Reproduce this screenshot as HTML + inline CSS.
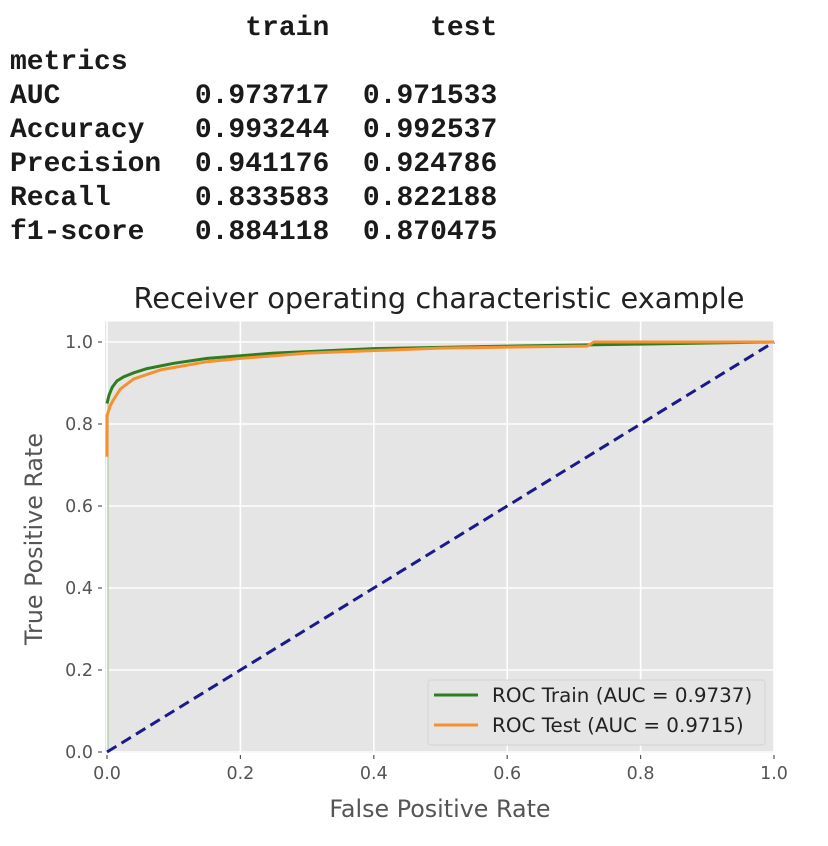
<!DOCTYPE html>
<html><head><meta charset="utf-8"><style>
body{margin:0;background:#fff;width:828px;height:846px;overflow:hidden;position:relative}
#tbl{position:absolute;left:0;top:0;font-family:"Liberation Mono",monospace;font-weight:bold;font-size:28px;color:#1a1a1a}
#tbl div{position:absolute;white-space:pre;line-height:30px}
</style></head><body>
<div id="tbl">
<div style="left:10px;top:14px">              train      test</div>
<div style="left:10px;top:48px">metrics</div>
<div style="left:10px;top:82px">AUC        0.973717  0.971533</div>
<div style="left:10px;top:116px">Accuracy   0.993244  0.992537</div>
<div style="left:10px;top:150px">Precision  0.941176  0.924786</div>
<div style="left:10px;top:184px">Recall     0.833583  0.822188</div>
<div style="left:10px;top:218px">f1-score   0.884118  0.870475</div>
</div>
<svg id="chart" width="828" height="846" style="position:absolute;left:0;top:0" font-family="DejaVu Sans, sans-serif"></svg>
<script>
const xTicks=[0,0.2,0.4,0.6,0.8,1.0];
const yTicks=[0,0.2,0.4,0.6,0.8,1.0];
const tickLabels=["0.0","0.2","0.4","0.6","0.8","1.0"];
const trainFpr=[0,0.003,0.008,0.015,0.025,0.04,0.06,0.1,0.15,0.25,0.4,0.6,0.8,1];
const trainTpr=[0.85,0.87,0.89,0.905,0.915,0.925,0.935,0.948,0.96,0.973,0.984,0.99,0.995,1];
const testFpr=[0,0,0.005,0.01,0.02,0.04,0.08,0.15,0.2,0.3,0.5,0.72,0.73,1];
const testTpr=[0.72,0.82,0.845,0.86,0.885,0.91,0.932,0.952,0.96,0.973,0.985,0.99,1.0,1.0];
const X0=107,X1=774,Y0=752,Y1=342;
const sx=v=>X0+(X1-X0)*v, sy=v=>Y0-(Y0-Y1)*v;
const svg=document.getElementById('chart');const NS='http://www.w3.org/2000/svg';
function mk(t,a,p){const e=document.createElementNS(NS,t);for(const k in a)e.setAttribute(k,a[k]);(p||svg).appendChild(e);return e;}
const bg=mk('rect',{x:105,y:sy(1.05),width:X1-105,height:Y0+1-sy(1.05),fill:'#e5e5e5'});


xTicks.forEach((v,i)=>{
 const g=mk('line',{x1:sx(v),x2:sx(v),y1:sy(1.05),y2:Y0+1,stroke:'#fff','stroke-width':1.6});
 
 
 const tk=mk('line',{x1:sx(v),x2:sx(v),y1:Y0+3,y2:Y0+7,stroke:'#555','stroke-width':1.2});
 
 
 const t=mk('text',{x:sx(v),y:Y0+27,'text-anchor':'middle','font-size':17.5,fill:'#555'});t.textContent=tickLabels[i];
 
 
});
yTicks.forEach((v,i)=>{
 const g=mk('line',{x1:105,x2:X1,y1:sy(v),y2:sy(v),stroke:'#fff','stroke-width':1.6});
 
 
 const tk=mk('line',{x1:98,x2:102,y1:sy(v),y2:sy(v),stroke:'#555','stroke-width':1.2});
 
 
 const t=mk('text',{x:93,y:sy(v)+6,'text-anchor':'end','font-size':17.5,fill:'#555'});t.textContent=tickLabels[i];
 
 
});
const faint=mk('line',{x1:sx(0)+1,y1:sy(0),x2:sx(0)+1,y2:sy(trainTpr[0]),stroke:'#b6d2ae','stroke-width':1.5});


const diag=mk('line',{x1:sx(0),y1:sy(0),x2:sx(1),y2:sy(1),stroke:'#1a1a8c','stroke-width':3,'stroke-dasharray':'11,6'});


function path(xs,ys,c,n){const d=xs.map((x,i)=>(i?'L':'M')+sx(x).toFixed(1)+','+sy(ys[i]).toFixed(1)).join('');
 const p=mk('path',{d:d,fill:'none',stroke:c,'stroke-width':3,'stroke-linejoin':'round'});
 
 }
path(trainFpr,trainTpr,'#2e7d1e','roc-train-line');
path(testFpr,testTpr,'#f5922f','roc-test-line');
const lg=mk('rect',{x:428,y:680,width:337,height:65,rx:3,fill:'#e5e5e5',stroke:'#d4d4d4','stroke-width':1});


[['#2e7d1e','ROC Train (AUC = 0.9737)',695],['#f5922f','ROC Test (AUC = 0.9715)',725]].forEach(e=>{
 const l=mk('line',{x1:434,x2:478,y1:e[2],y2:e[2],stroke:e[0],'stroke-width':3});
 
 
 const t=mk('text',{x:492,y:e[2]+7,'font-size':19.9,fill:'#222'});t.textContent=e[1];
 
 
});
const ti=mk('text',{x:439,y:308,'text-anchor':'middle','font-size':28.8,fill:'#222'});ti.textContent='Receiver operating characteristic example';


const xl=mk('text',{x:440,y:817,'text-anchor':'middle','font-size':23.8,fill:'#555'});xl.textContent='False Positive Rate';


const yl=mk('text',{x:0,y:0,'text-anchor':'middle','font-size':23.8,fill:'#555',transform:'translate(42,539) rotate(-90)'});yl.textContent='True Positive Rate';


</script>
</body></html>
